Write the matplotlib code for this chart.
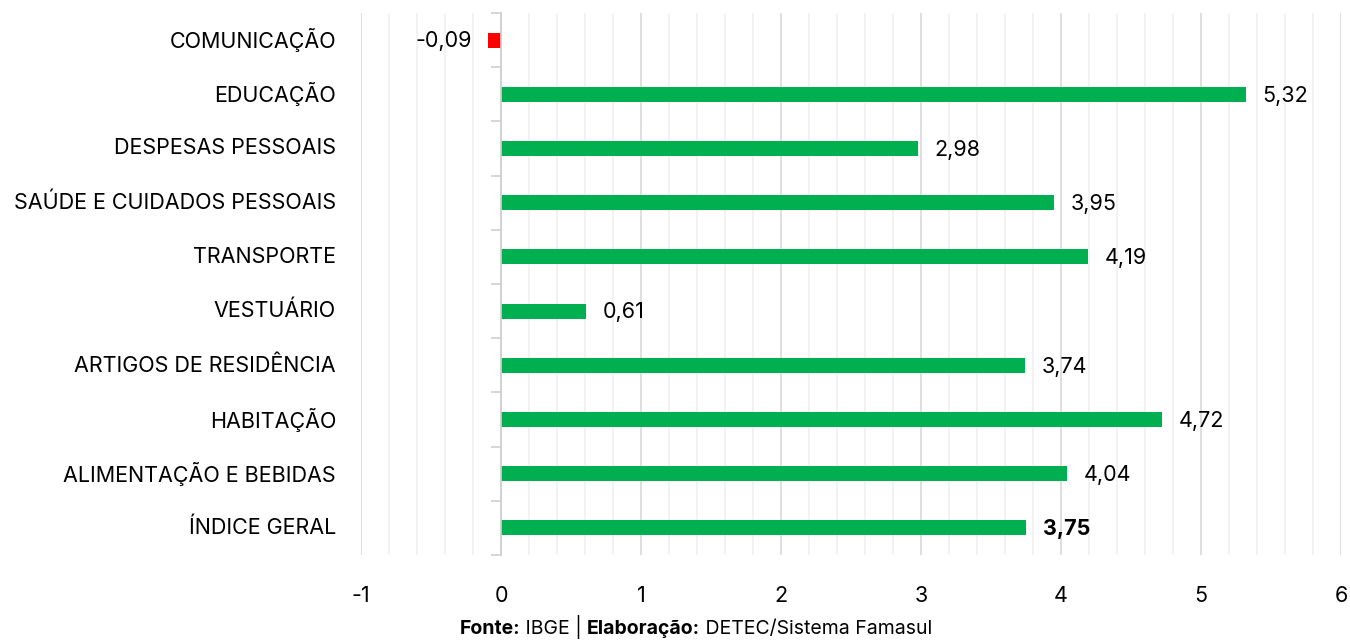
import numpy as np
import matplotlib.pyplot as plt
from matplotlib.ticker import MultipleLocator
import matplotlib.transforms as mtransforms

plt.rcParams['font.family'] = ['Inter', 'DejaVu Sans']
plt.rcParams['axes.unicode_minus'] = False

categories = ['ÍNDICE GERAL', 'ALIMENTAÇÃO E BEBIDAS', 'HABITAÇÃO',
              'ARTIGOS DE RESIDÊNCIA', 'VESTUÁRIO', 'TRANSPORTE',
              'SAÚDE E CUIDADOS PESSOAIS', 'DESPESAS PESSOAIS', 'EDUCAÇÃO',
              'COMUNICAÇÃO']
values = [3.75, 4.04, 4.72, 3.74, 0.61, 4.19, 3.95, 2.98, 5.32, -0.09]

GREEN = '#00B050'
RED = '#FF0000'
FS = 15.5

fig = plt.figure(figsize=(13.5, 6.4), dpi=100)
ax = fig.add_axes([361 / 1350, 1 - 555 / 640, 980 / 1350, 542 / 640])

y = np.arange(len(categories))
colors = [RED if v < 0 else GREEN for v in values]
ax.barh(y, values, height=0.28, color=colors, zorder=3)

ax.set_xlim(-1, 6)
ax.set_ylim(-0.5, len(categories) - 0.5)

# grid
ax.xaxis.set_major_locator(MultipleLocator(1))
ax.xaxis.set_minor_locator(MultipleLocator(0.2))
ax.grid(which='major', axis='x', color='#d9d9d9', linewidth=1.2, zorder=0)
ax.grid(which='minor', axis='x', color='#f0f0f0', linewidth=1.2, zorder=0)
ax.tick_params(axis='x', which='both', length=0, labelsize=FS, pad=22)

# y axis at zero with boundary ticks
for s in ['top', 'right', 'bottom']:
    ax.spines[s].set_visible(False)
ax.spines['left'].set_position(('data', 0))
ax.spines['left'].set_color('#d0d0d0')
ax.spines['left'].set_linewidth(1.2)
ax.spines['left'].set_zorder(4)
ax.set_yticks(np.arange(len(categories) + 1) - 0.5)
ax.tick_params(axis='y', which='major', length=7, color='#d0d0d0',
               width=1.2, labelleft=False)

# category labels at the left of the plot area
trans = mtransforms.blended_transform_factory(ax.transAxes, ax.transData)
for yi, cat in zip(y, categories):
    ax.text(-25 / 980, yi, cat, transform=trans, ha='right', va='center',
            fontsize=FS)

# value labels
off = mtransforms.offset_copy
for yi, v in zip(y, values):
    txt = f'{v:.2f}'.replace('.', ',')
    if v < 0:
        t = off(ax.transData, fig=fig, x=-12, y=-1, units='points')
        ax.text(v, yi, txt, transform=t, ha='right', va='center', fontsize=FS)
    else:
        t = off(ax.transData, fig=fig, x=12, y=-1, units='points')
        ax.text(v, yi, txt, transform=t, ha='left', va='center', fontsize=FS,
                fontweight='bold' if yi == 0 else 'normal')

# footer with mixed weights, on a common baseline
parts = [('Fonte:', 'bold'), (' IBGE | ', 'normal'), ('Elaboração:', 'bold'),
         (' DETEC/Sistema Famasul', 'normal')]
fig.canvas.draw()
renderer = fig.canvas.get_renderer()
widths = []
objs = []
for s, w in parts:
    t = fig.text(0, 1 - 634 / 640, s, fontsize=14, fontweight=w,
                 va='baseline')
    objs.append(t)
    widths.append(t.get_window_extent(renderer).width)
total = sum(widths)
x0 = 696 - total / 2
for t, wd in zip(objs, widths):
    t.set_x(x0 / 1350)
    x0 += wd

fig.savefig('out.png', dpi=100)
